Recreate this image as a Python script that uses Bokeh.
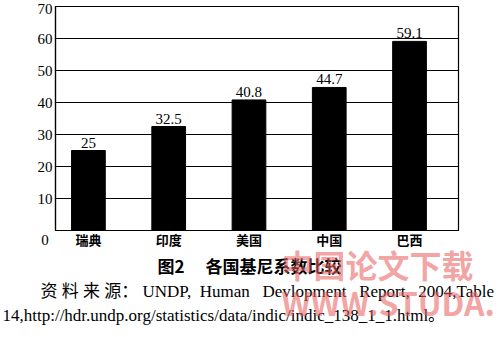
from bokeh.plotting import figure
from bokeh.models import FixedTicker, Title
from bokeh.core.properties import value
from bokeh.embed import file_html
from bokeh.resources import INLINE

countries = ["瑞典", "印度", "美国", "中国", "巴西"]
gini = [25, 32.5, 40.8, 44.7, 59.1]
gini_labels = ["25", "32.5", "40.8", "44.7", "59.1"]
y_ticks = [0, 10, 20, 30, 40, 50, 60, 70]
title_text = "图2\u3000 各国基尼系数比较"
NB = "\u00a0"
source_line1 = ("资 料 来 源：" + NB + "UNDP," + NB * 2 + "Human" + NB * 3 + "Devlopment"
                + NB * 3 + "Report," + NB * 2 + "2004,Table")
source_line2 = "14,http://hdr.undp.org/statistics/data/indic/indic_138_1_1.html。"
watermark = "中国论文下载\nWWW.STUDA."

W, H = 500, 337
FL, FR, FT, FB = 55, 458, 6, 230  # frame edges of the chart in px

xs = list(range(len(countries)))

p = figure(width=W, height=H, x_range=(-0.41, 4.61), y_range=(0, 70),
           output_backend="svg", toolbar_location=None,
           min_border_left=FL, min_border_right=W - FR,
           min_border_top=FT, min_border_bottom=H - FB)
p.background_fill_color = "white"
p.border_fill_color = "white"
p.outline_line_color = "black"
p.outline_line_width = 1.2

p.vbar(x=xs, top=gini, width=0.42, fill_color="black", line_color="black")
p.text(x=xs, y=gini, text=gini_labels, text_align="center", text_baseline="bottom",
       y_offset=-3, text_font=value("Liberation Serif"), text_font_size="15px",
       text_color="black")

p.xgrid.grid_line_color = None
p.ygrid.grid_line_color = "black"
p.ygrid.grid_line_width = 1.2
p.ygrid.ticker = FixedTicker(ticks=y_ticks)

p.yaxis.ticker = FixedTicker(ticks=y_ticks)
p.yaxis.major_label_overrides = {0: "\n0 "}
p.yaxis.major_tick_out = 0
p.yaxis.major_tick_in = 0
p.yaxis.minor_tick_line_color = None
p.yaxis.axis_line_color = "black"
p.yaxis.axis_line_width = 1.2
p.yaxis.major_label_text_font = "Liberation Serif"
p.yaxis.major_label_text_font_size = "15px"
p.yaxis.major_label_text_color = "black"
p.yaxis.major_label_standoff = 3

p.xaxis.ticker = FixedTicker(ticks=xs)
p.xaxis.major_label_overrides = {i: c for i, c in enumerate(countries)}
p.xaxis.major_tick_out = 0
p.xaxis.major_tick_in = 0
p.xaxis.minor_tick_line_color = None
p.xaxis.axis_line_color = "black"
p.xaxis.axis_line_width = 1.2
p.xaxis.major_label_text_font = "Noto Sans CJK SC"
p.xaxis.major_label_text_font_size = "13px"
p.xaxis.major_label_text_font_style = "bold"
p.xaxis.major_label_text_color = "black"
p.xaxis.major_label_standoff = -1

mixed = "'Liberation Serif', 'Noto Sans CJK SC'"
p.add_layout(Title(text=title_text, align="left", offset=157 - FL, standoff=-2,
                   text_font="Noto Sans CJK SC", text_font_size="17px",
                   text_font_style="bold", text_color="black"), "below")
p.add_layout(Title(text=source_line1, align="left", offset=40 - FL, standoff=6,
                   text_font=mixed, text_font_size="17px",
                   text_font_style="normal", text_color="black"), "below")
p.add_layout(Title(text=source_line2, align="left", offset=2 - FL, standoff=0,
                   text_font=mixed, text_font_size="17px",
                   text_font_style="normal", text_color="black"), "below")
p.add_layout(Title(text=watermark, align="left", offset=281 - FL, standoff=-168,
                   vertical_align="top", text_line_height=0.84,
                   text_font="Noto Sans CJK SC", text_font_size="32px",
                   text_font_style="bold", text_color="#e86060", text_alpha=0.58), "below")

open("out.html", "w").write(file_html(p, INLINE))
